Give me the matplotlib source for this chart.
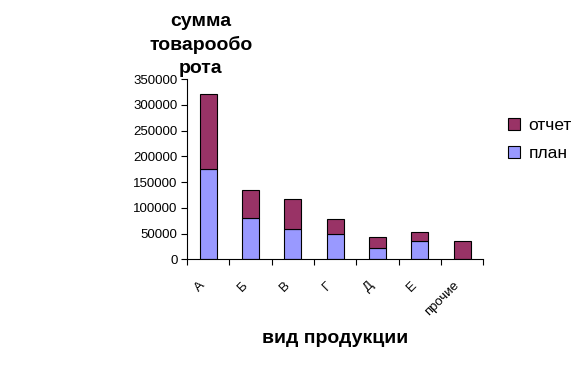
import numpy as np
import matplotlib.pyplot as plt

plt.rcParams["font.family"] = ["Liberation Sans", "DejaVu Sans"]

# данные
categories = ["А", "Б", "В", "Г", "Д", "Е", "прочие"]
plan = [176000, 79500, 58000, 48500, 21500, 35000, 0]
otchet = [144000, 54500, 58500, 29000, 21000, 17500, 35000]

fig = plt.figure(figsize=(5.85, 3.73), dpi=100)
ax = fig.add_axes([0.320, 0.3048, 0.506, 0.4834])

x = np.arange(len(categories))
ax.bar(x, plan, width=0.4, color="#9999FF", edgecolor="black", linewidth=0.8, label="план")
ax.bar(x, otchet, width=0.4, bottom=plan, color="#993366", edgecolor="black", linewidth=0.8, label="отчет")

ax.set_xlim(-0.5, len(categories) - 0.5)
ax.set_ylim(0, 350000)
ax.set_yticks(np.arange(0, 350001, 50000))
ax.tick_params(axis="y", labelsize=9.5, length=4, width=0.8, pad=3)

# деления на границах категорий
ax.set_xticks(np.arange(-0.5, len(categories), 1.0))
ax.set_xticklabels([])
ax.tick_params(axis="x", length=4, width=0.8)
for i, c in enumerate(categories):
    ax.text(i - 0.22, -0.11, c, transform=ax.get_xaxis_transform(), rotation=45,
            ha="right", va="top", rotation_mode="anchor", fontsize=9.5)

ax.spines["top"].set_visible(False)
ax.spines["right"].set_visible(False)
for s in ["left", "bottom"]:
    ax.spines[s].set_linewidth(0.8)

fig.text(0.343, 0.965, "сумма\nтоварообо\nрота", ha="center", va="top",
         fontsize=14, fontweight="bold", linespacing=1.45)
fig.text(0.573, 0.093, "вид продукции", ha="center", va="center",
         fontsize=14, fontweight="bold")

handles, labels = ax.get_legend_handles_labels()
ax.legend(handles[::-1], labels[::-1], loc="upper left", bbox_to_anchor=(1.03, 0.87),
          frameon=False, fontsize=12.5, handlelength=0.7, handleheight=0.7,
          handletextpad=0.5, labelspacing=0.75)

fig.savefig("out.png", dpi=100)
